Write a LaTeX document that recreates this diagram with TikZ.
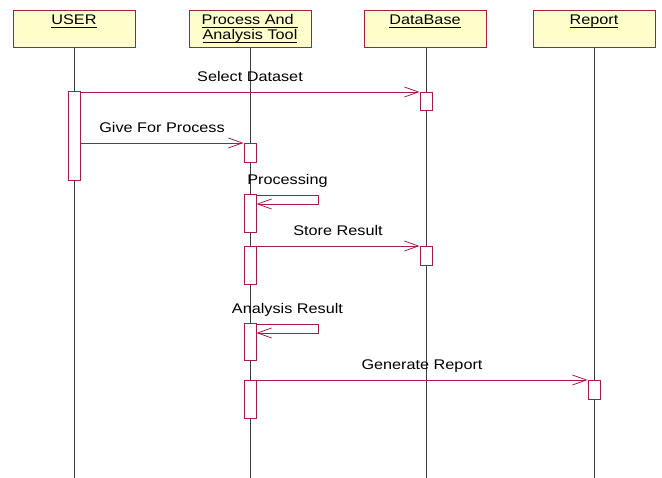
\documentclass[tikz,border=0pt]{standalone}
\usepackage{fontspec}
\setmainfont{Liberation Sans}[FakeStretch=1.16]
\usetikzlibrary{arrows.meta,calc}
\definecolor{umlred}{RGB}{165,28,75}
\definecolor{headfill}{RGB}{255,255,204}
\definecolor{lifegray}{RGB}{60,60,60}
% underline at a fixed distance below the baseline, ignoring descenders
\newcommand\objul[1]{\leavevmode\vtop{\hbox{\smash{#1}}\kern1.6pt\hrule height 0.8pt}}

\begin{document}
\begin{tikzpicture}[x=1pt,y=-1pt,
  every node/.style={font=\fontsize{14}{15.5}\selectfont},
  objbox/.style={draw=umlred, fill=headfill, line width=0.9pt,
    minimum width=122pt, minimum height=37pt, inner sep=0pt, anchor=north},
  objname/.style={anchor=base, inner sep=0pt},
  lifeline/.style={draw=lifegray, line width=0.8pt},
  actbox/.style={draw=umlred, fill=white, line width=0.9pt,
    minimum width=12pt, inner sep=0pt, anchor=north},
  msgline/.style={draw=umlred, line width=0.8pt,
    -{Straight Barb[length=14pt,width=10pt,line width=0.8pt]}},
  msglabel/.style={anchor=base, inner sep=0pt, yshift=10pt}
]
\useasboundingbox (0,0) rectangle (662,478);

% object heads
\node[objbox] (user) at (74,10) {};
\node[objbox] (tool) at (250,10) {};
\node[objbox] (db)   at (425,10) {};
\node[objbox] (rep)  at (594,10) {};

\node[objname] (userT) at (74,25) {\objul{USER}};
\node[objname] (toolT) at (250,25) {\objul{Process And\ }};
\node[objname] (toolU) at (250,40) {\objul{Analysis Tool}};
\node[objname] (dbT)   at (425,25) {\objul{DataBase}};
\node[objname] (repT)  at (594,25) {\objul{Report}};

% lifelines
\coordinate (userEnd) at (74,478);
\coordinate (toolEnd) at (250,478);
\coordinate (dbEnd)   at (426,478);
\coordinate (repEnd)  at (594,478);
\draw[lifeline] (user.south) -- (userEnd);
\draw[lifeline] (tool.south) -- (toolEnd);
\draw[lifeline] (db.south -| dbEnd) -- (dbEnd);
\draw[lifeline] (rep.south) -- (repEnd);

% activation bars
\node[actbox, minimum height=89pt] (u1) at (74,91) {};
\node[actbox, minimum height=18pt] (d1) at (426,92) {};
\node[actbox, minimum height=19pt] (p1) at (250,143) {};
\node[actbox, minimum height=38pt] (p2) at (250,194) {};
\node[actbox, minimum height=38pt] (p3) at (250,246) {};
\node[actbox, minimum height=19pt] (d2) at (426,246) {};
\node[actbox, minimum height=37pt] (p4) at (250,323) {};
\node[actbox, minimum height=38pt] (p5) at (250,380) {};
\node[actbox, minimum height=19pt] (r1) at (594,380) {};

% messages
\draw[msgline] (d1.north west -| u1.east) -- (d1.north west)
  node[msglabel, midway] (m1) {Select Dataset};
\draw[msgline] (p1.north west -| u1.east) -- (p1.north west)
  node[msglabel, midway] (m2) {Give For Process};
\coordinate (loopA) at ($(p2.north east)+(62,1)$);
\coordinate (loopB) at ($(p2.north east)+(0,10)$);
\draw[msgline] ($(p2.north east)+(0,1)$) -- (loopA)
  node[msglabel, midway] (m3) {Processing}
  |- (loopB);
\draw[msgline] (p3.north east) -- (d2.north west)
  node[msglabel, midway] (m4) {Store Result};
\coordinate (loopC) at ($(p4.north east)+(62,1)$);
\coordinate (loopD) at ($(p4.north east)+(0,10)$);
\draw[msgline] ($(p4.north east)+(0,1)$) -- (loopC)
  node[msglabel, midway] (m5) {Analysis Result}
  |- (loopD);
\draw[msgline] (p5.north east) -- (r1.north west)
  node[msglabel, midway] (m6) {Generate Report};
\end{tikzpicture}
\end{document}
